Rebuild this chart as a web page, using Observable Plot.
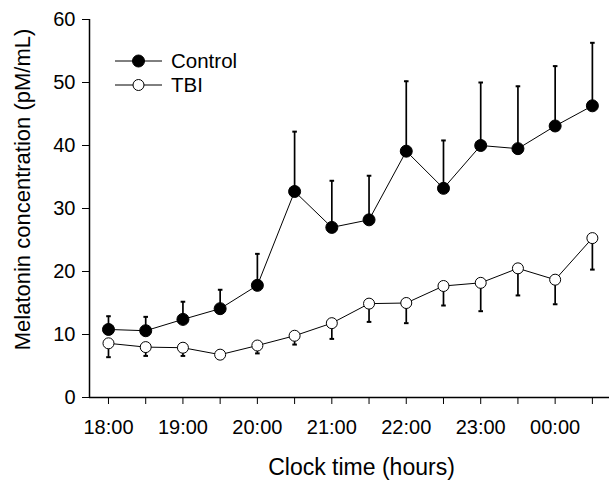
<!DOCTYPE html>
<html>
<head>
<meta charset="utf-8">
<script src="https://cdn.jsdelivr.net/npm/d3@7"></script>
<script src="https://cdn.jsdelivr.net/npm/@observablehq/plot@0.6"></script>
<style>
  body { margin: 0; background: #fff; }
  #wrap { position: relative; width: 609px; height: 481px; font-family: "Liberation Sans", Arial, sans-serif; }
  #legend { position: absolute; left: 113px; top: 49px; font-size: 20.5px; color: #000; }
  #legend .row { display: flex; align-items: center; height: 24px; }
  #legend svg { margin-right: 7px; }
</style>
</head>
<body>
<div id="wrap"></div>
<script>
// ---- data ----
const times = ["18:00","18:30","19:00","19:30","20:00","20:30","21:00","21:30","22:00","22:30","23:00","23:30","00:00","00:30"];
const controlMean  = [10.8, 10.6, 12.4, 14.1, 17.8, 32.7, 27.0, 28.2, 39.1, 33.2, 40.0, 39.5, 43.1, 46.3];
const controlUpper = [12.9, 12.8, 15.2, 17.1, 22.8, 42.2, 34.4, 35.2, 50.2, 40.8, 50.0, 49.4, 52.6, 56.3];
const tbiMean      = [8.6, 8.0, 7.9, 6.8, 8.25, 9.8, 11.8, 14.9, 15.0, 17.7, 18.2, 20.5, 18.7, 25.3];
const tbiLower     = [6.4, 6.6, 6.6, 6.2, 7.0, 8.4, 9.3, 12.0, 11.8, 14.6, 13.7, 16.2, 14.8, 20.3];
const seriesNames  = ["Control", "TBI"];
const yTicks = [0, 10, 20, 30, 40, 50, 60];
const xTitle = "Clock time (hours)";
const yTitle = "Melatonin concentration (pM/mL)";

// convert clock label to hours, continuing past midnight
const toHours = t => { const [h, m] = t.split(":").map(Number); return (h < 12 ? h + 24 : h) + m / 60; };
const hrs = times.map(toHours);
const fmtHour = h => Number.isInteger(h) ? String(h % 24).padStart(2, "0") + ":00" : "";

const control = times.map((t, i) => ({x: hrs[i], y: controlMean[i], e: controlUpper[i]}));
const tbi     = times.map((t, i) => ({x: hrs[i], y: tbiMean[i], e: tbiLower[i]}));

const xDomain = [17.745, 24.73];

// horizontal cap symbol for error bars
const cap = { draw(ctx, size) { const r = Math.sqrt(size / Math.PI); ctx.moveTo(-r, 0); ctx.lineTo(r, 0); } };

const font = "Liberation Sans, Arial, sans-serif";

const chart = Plot.plot({
  width: 609,
  height: 481,
  marginLeft: 89,
  marginRight: 0,
  marginTop: 19,
  marginBottom: 84,
  style: { fontFamily: font, fontSize: "20px", color: "#000", background: "#fff" },
  x: { type: "linear", domain: xDomain },
  y: { domain: [0, 60] },
  marks: [
    Plot.axisY({ ticks: yTicks, tickSize: 7, tickPadding: 7, fontSize: 20, label: null }),
    Plot.axisX({ ticks: hrs, tickFormat: fmtHour, tickSize: 7, tickPadding: 15, fontSize: 20, label: null }),
    Plot.text([yTitle], { frameAnchor: "left", textAnchor: "middle", rotate: -90, dx: -67, dy: -19, fontSize: 22, fill: "#000" }),
    Plot.text([xTitle], { frameAnchor: "bottom", dx: 12, dy: 77, fontSize: 23, fill: "#000" }),
    Plot.ruleY([0], { stroke: "#000", strokeWidth: 1.5 }),
    Plot.ruleX([xDomain[0]], { stroke: "#000", strokeWidth: 1.5 }),
    // error bars
    Plot.ruleX(control, { x: "x", y1: "y", y2: "e", stroke: "#000", strokeWidth: 1.7 }),
    Plot.dot(control, { x: "x", y: "e", symbol: cap, r: 2.3, stroke: "#000", strokeWidth: 2 }),
    Plot.ruleX(tbi, { x: "x", y1: "y", y2: "e", stroke: "#000", strokeWidth: 1.7 }),
    Plot.dot(tbi, { x: "x", y: "e", symbol: cap, r: 2.3, stroke: "#000", strokeWidth: 2 }),
    // lines
    Plot.line(control, { x: "x", y: "y", stroke: "#000", strokeWidth: 1 }),
    Plot.line(tbi, { x: "x", y: "y", stroke: "#000", strokeWidth: 1 }),
    // markers
    Plot.dot(control, { x: "x", y: "y", r: 6, fill: "#000", stroke: "#000", strokeWidth: 1 }),
    Plot.dot(tbi, { x: "x", y: "y", r: 5.5, fill: "#fff", stroke: "#000", strokeWidth: 1 })
  ]
});

const wrap = document.getElementById("wrap");
wrap.appendChild(chart);

// legend
const legend = document.createElement("div");
legend.id = "legend";
seriesNames.forEach((name, i) => {
  const row = document.createElement("div");
  row.className = "row";
  const fill = i === 0 ? "#000" : "#fff";
  row.innerHTML = `<svg width="51" height="14"><line x1="2" y1="7" x2="49" y2="7" stroke="#000" stroke-width="1"/><circle cx="25.5" cy="7" r="${i === 0 ? 6 : 5.5}" fill="${fill}" stroke="#000" stroke-width="1"/></svg><span>${name}</span>`;
  legend.appendChild(row);
});
wrap.appendChild(legend);
</script>
</body>
</html>
